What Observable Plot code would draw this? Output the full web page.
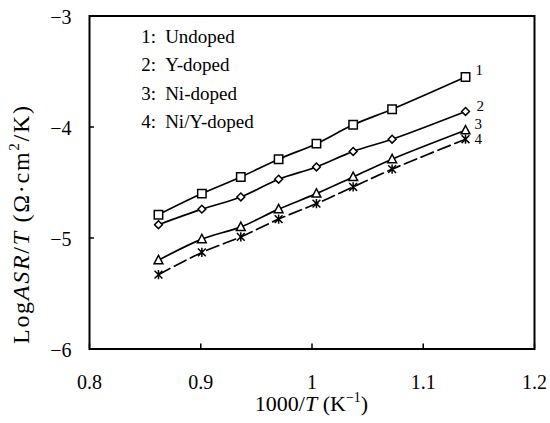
<!DOCTYPE html>
<html><head><meta charset="utf-8">
<script src="https://cdn.jsdelivr.net/npm/d3@7"></script>
<script src="https://cdn.jsdelivr.net/npm/@observablehq/plot@0.6"></script>
<style>body{margin:0;background:#fff} #chart{width:550px;height:423px}</style>
</head><body><div id="chart"></div>
<script>
// 1000/T (K^-1)
const invT = [0.862, 0.901, 0.936, 0.970, 1.004, 1.037, 1.072, 1.138];
// Log ASR/T values
const undoped  = [-4.79, -4.60, -4.45, -4.29, -4.15, -3.98, -3.84, -3.55];
const yDoped   = [-4.88, -4.74, -4.63, -4.47, -4.36, -4.22, -4.11, -3.86];
const niDoped  = [-5.20, -5.01, -4.90, -4.74, -4.60, -4.45, -4.29, -4.03];
const niYDoped = [-5.33, -5.13, -4.99, -4.83, -4.69, -4.54, -4.38, -4.11];
const seriesIds = ["1", "2", "3", "4"];
const seriesNames = ["Undoped", "Y-doped", "Ni-doped", "Ni/Y-doped"];
const xTicks = [0.8, 0.9, 1, 1.1, 1.2];
const yTicks = [-6, -5, -4, -3];
// legend anchor positions (data units)
const legendX = [0.8466, 0.868];
const legendY = [-3.19, -3.445, -3.70, -3.95];

const allValues = [undoped, yDoped, niDoped, niYDoped];
const rows = allValues.map((vals, i) => vals.map((v, j) => ({s: i, x: invT[j], y: v})));

// custom marker symbols
const symSquare = {draw(c, size) { const h = Math.sqrt(size / Math.PI); c.rect(-h, -h, 2*h, 2*h); }};
const symDiamond = {draw(c, size) { const h = Math.sqrt(size / Math.PI); c.moveTo(0, -h); c.lineTo(h, 0); c.lineTo(0, h); c.lineTo(-h, 0); c.closePath(); }};
const symTriangle = {draw(c, size) { const h = Math.sqrt(size / Math.PI); c.moveTo(0, -h*1.1); c.lineTo(h, h*0.8); c.lineTo(-h, h*0.8); c.closePath(); }};
const symStar = {draw(c, size) { const h = Math.sqrt(size / Math.PI); const d = h*0.85;
  c.moveTo(0, -h); c.lineTo(0, h); c.moveTo(-d, -d); c.lineTo(d, d); c.moveTo(d, -d); c.lineTo(-d, d); }};
const symbols = [symSquare, symDiamond, symTriangle, symStar];
const radii = [4.2, 3.9, 4.4, 4.6];

const lineMarks = rows.map((r, i) => Plot.line(r, {x: "x", y: "y", curve: "catmull-rom", stroke: "black", strokeWidth: 1.7,
  strokeDasharray: i === 3 ? "13,5" : null}));
const dotMarks = rows.map((r, i) => Plot.dot(r, {x: "x", y: "y", symbol: () => symbols[i], r: radii[i],
  fill: i === 3 ? "none" : "white", stroke: "black", strokeWidth: 1.5}));

// series number labels at the end of each curve
const endDx = [10, 11, 9, 9];
const endDy = [-7, -5, -6, 0];
const endMarks = rows.map((r, i) => Plot.text([r[r.length - 1]], {x: "x", y: "y", text: () => seriesIds[i],
  dx: endDx[i], dy: endDy[i], textAnchor: "start", fontSize: 15, fill: "black"}));

const plot = Plot.plot({
  width: 550, height: 423,
  marginLeft: 89, marginRight: 16, marginTop: 15.5, marginBottom: 74.5,
  x: {domain: [0.8, 1.2]},
  y: {domain: [-6, -3]},
  style: {fontFamily: "'Liberation Serif', 'Times New Roman', serif", fontSize: "20px", color: "black", background: "white"},
  marks: [
    Plot.axisX(xTicks, {tickSize: 0, tickPadding: 26, label: null, tickFormat: d => String(d)}),
    Plot.axisY(yTicks, {tickSize: 0, tickPadding: 18, label: null, dy: 2, tickFormat: d => (d < 0 ? "\u2212" : "") + Math.abs(d)}),
    Plot.tickY(yTicks, {y: d => d, insetRight: 440, stroke: "black", strokeWidth: 1.5}),
    Plot.tickX(xTicks, {x: d => d, insetTop: 328, stroke: "black", strokeWidth: 1.5}),
    ...lineMarks,
    ...dotMarks,
    Plot.text(seriesIds, {x: () => legendX[0], y: (d, i) => legendY[i], text: d => d + ":", textAnchor: "start", fontSize: 19, fill: "black"}),
    Plot.text(seriesNames, {x: () => legendX[1], y: (d, i) => legendY[i], text: d => d, textAnchor: "start", fontSize: 19, fill: "black"}),
    ...endMarks,
    Plot.frame({stroke: "black", strokeWidth: 2})
  ]
});
document.getElementById("chart").appendChild(plot);

const svg = d3.select(plot);
// axis titles
const xt = svg.append("text").attr("x", 311.5).attr("y", 411).attr("text-anchor", "middle")
  .attr("font-size", 22).attr("fill", "black");
xt.append("tspan").text("1000/");
xt.append("tspan").attr("font-style", "italic").text("T");
xt.append("tspan").text(" (K");
xt.append("tspan").attr("font-size", 14).attr("dy", -9).text("\u22121");
xt.append("tspan").attr("dy", 9).text(")");

const yt = svg.append("text").attr("transform", "translate(29,225) rotate(-90)").attr("text-anchor", "middle")
  .attr("font-size", 24).attr("fill", "black").attr("textLength", 238).attr("lengthAdjust", "spacing");
yt.append("tspan").text("Log");
yt.append("tspan").attr("font-style", "italic").text("ASR");
yt.append("tspan").text("/");
yt.append("tspan").attr("font-style", "italic").text("T");
yt.append("tspan").text(" (\u03a9\u00b7cm");
yt.append("tspan").attr("font-size", 15).attr("dy", -10).text("2");
yt.append("tspan").attr("dy", 10).text("/K)");
</script>
</body></html>
